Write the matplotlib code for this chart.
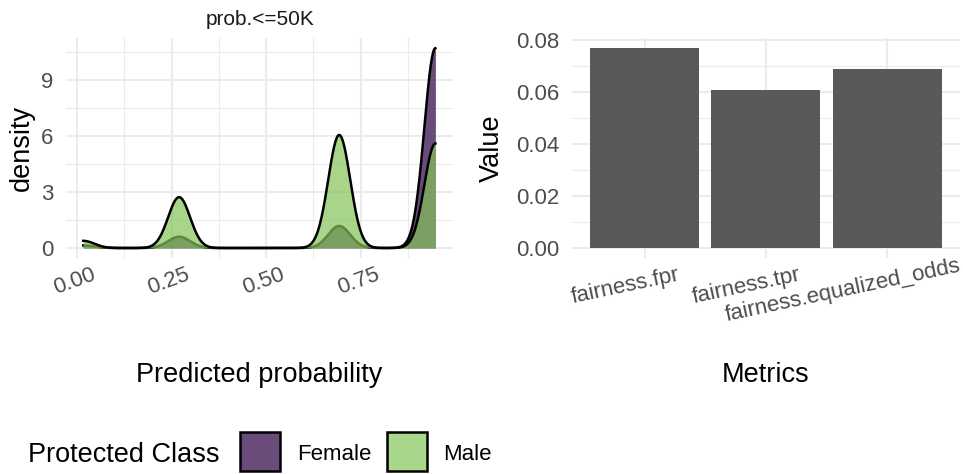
import numpy as np
import matplotlib
matplotlib.use("Agg")
import matplotlib.pyplot as plt
import matplotlib.transforms as mtransforms
from matplotlib.patches import Rectangle

plt.rcParams['font.family'] = ['Liberation Sans', 'DejaVu Sans']

# ---------------- data ----------------
# density panel: predicted-probability clusters and share of each group at each
prob_points = [0.0167, 0.270, 0.693, 0.947]
female_share = [0.010, 0.044, 0.086, 0.778]
male_share = [0.028, 0.198, 0.440, 0.407]
bandwidth = 0.029
groups = ["Female", "Male"]
facet_title = "prob.<=50K"

# bar panel
metrics = ["fairness.fpr", "fairness.tpr", "fairness.equalized_odds"]
metric_values = [0.0769, 0.0607, 0.0688]

left_xticks = [0.0, 0.25, 0.50, 0.75]
left_yticks = [0, 3, 6, 9]
right_yticks = [0.00, 0.02, 0.04, 0.06, 0.08]

# ---------------- style ----------------
W, H = 963, 474
DPI = 100
female_col = "#451F59"
female_alpha = 0.8
male_col = "#83C458"
male_alpha = 0.7
bar_col = "#595959"
grid_col = "#EBEBEB"
tick_col = "#4D4D4D"
TICK_FS = 16
TITLE_FS = 19.5
STRIP_FS = 15

fig = plt.figure(figsize=(W / DPI, H / DPI), dpi=DPI)


def rect(x0, y0, x1, y1):
    # pixel box (top-left origin) -> figure fraction
    return [x0 / W, 1 - y1 / H, (x1 - x0) / W, (y1 - y0) / H]


def fx(px):
    return px / W


def fy(py):
    return 1 - py / H


axL = fig.add_axes(rect(65.6, 38.2, 453, 258))
axR = fig.add_axes(rect(571.7, 38.2, 960, 258))

for ax in (axL, axR):
    for s in ax.spines.values():
        s.set_visible(False)
    ax.set_axisbelow(True)
    ax.tick_params(length=0, labelsize=TICK_FS, labelcolor=tick_col, pad=9)

# ---------------- density panel ----------------
pts = np.array(prob_points)
xs = np.linspace(pts.min(), pts.max(), 600)


def kde(shares):
    sh = np.array(shares)
    z = (xs[:, None] - pts[None, :]) / bandwidth
    return (sh[None, :] * np.exp(-0.5 * z ** 2)).sum(axis=1) / (np.sqrt(2 * np.pi) * bandwidth)


dens_f = kde(female_share)
dens_m = kde(male_share)

axL.fill_between(xs, 0, dens_f, color=female_col, alpha=female_alpha, lw=0, zorder=2)
axL.plot(xs, dens_f, color="black", lw=1.8, zorder=2.1)
axL.fill_between(xs, 0, dens_m, color=male_col, alpha=male_alpha, lw=0, zorder=3)
axL.plot(xs, dens_m, color="black", lw=1.8, zorder=3.1)

xr = pts.max() - pts.min()
axL.set_xlim(pts.min() - 0.05 * xr, pts.max() + 0.05 * xr)
ymax = max(dens_f.max(), dens_m.max())
axL.set_ylim(-0.05 * ymax, 1.05 * ymax)
axL.set_xticks(left_xticks)
axL.set_xticklabels([])
axL.set_yticks(left_yticks)
axL.set_yticklabels([str(v) for v in left_yticks])
axL.set_xticks([0.125, 0.375, 0.625, 0.875], minor=True)
axL.set_yticks([1.5, 4.5, 7.5, 10.5], minor=True)
axL.tick_params(which="minor", length=0)
axL.grid(True, which="major", color=grid_col, lw=1.5)
axL.grid(True, which="minor", color=grid_col, lw=0.8)

# ---------------- bar panel ----------------
xpos = np.arange(len(metrics))
axR.bar(xpos, metric_values, width=0.9, color=bar_col, zorder=2)
axR.set_xlim(-0.6, len(metrics) - 0.4)
vmax = max(metric_values)
axR.set_ylim(-0.05 * vmax, 1.05 * vmax)
axR.set_xticks(xpos)
axR.set_xticklabels([])
axR.set_yticks(right_yticks)
axR.set_yticklabels([f"{v:.2f}" for v in right_yticks])
axR.set_yticks([0.01, 0.03, 0.05, 0.07], minor=True)
axR.tick_params(which="minor", length=0)
axR.grid(True, which="major", color=grid_col, lw=1.5)
axR.grid(True, which="minor", axis="y", color=grid_col, lw=0.8)

# ---------------- rotated x tick labels with fractional anchor ----------------
renderer = fig.canvas.get_renderer()


def rotated_labels(ax, positions, labels, angle, frac, drop_px):
    th = np.deg2rad(angle)
    for p, lab in zip(positions, labels):
        tmp = fig.text(0, 0, lab, fontsize=TICK_FS)
        L = tmp.get_window_extent(renderer).width
        tmp.remove()
        dx = -frac * L * np.cos(th)
        dy = -frac * L * np.sin(th) - drop_px
        off = mtransforms.ScaledTranslation(dx / DPI, dy / DPI, fig.dpi_scale_trans)
        tr = mtransforms.blended_transform_factory(ax.transData, ax.transAxes) + off
        ax.text(p, 0, lab, transform=tr, rotation=angle, rotation_mode="anchor",
                ha="left", va="top", fontsize=TICK_FS, color=tick_col, clip_on=False)


rotated_labels(axL, left_xticks, [f"{v:.2f}" for v in left_xticks], 20, 0.65, 11)
rotated_labels(axR, list(xpos), metrics, 12, 0.7, 13)

# ---------------- titles ----------------
fig.text(fx(260), fy(25), facet_title, fontsize=STRIP_FS, ha="center", va="baseline", color="#1A1A1A")
fig.text(fx(259), fy(382), "Predicted probability", fontsize=TITLE_FS, ha="center", va="baseline")
fig.text(fx(766), fy(382), "Metrics", fontsize=TITLE_FS, ha="center", va="baseline")
fig.text(fx(22), fy(148), "density", fontsize=TITLE_FS, rotation=90, ha="center", va="center")
fig.text(fx(492), fy(148), "Value", fontsize=TITLE_FS, rotation=90, ha="center", va="center")

# ---------------- legend ----------------
fig.text(fx(28), fy(452), "Protected Class", fontsize=TITLE_FS, ha="left", va="center_baseline")


def blend_on_white(c, a):
    rgb = np.array(matplotlib.colors.to_rgb(c))
    return tuple(a * rgb + (1 - a) * 1.0)


key_specs = [
    (groups[0], blend_on_white(female_col, female_alpha), 239.5, 297),
    (groups[1], blend_on_white(male_col, male_alpha), 387, 443.5),
]
for name, col, kx, tx in key_specs:
    fig.patches.append(Rectangle((fx(kx), fy(471)), 40 / W, 39 / H, transform=fig.transFigure,
                                 facecolor=col, edgecolor="black", lw=1.8))
    fig.text(fx(tx), fy(452), name, fontsize=TICK_FS, ha="left", va="center_baseline")

fig.savefig("out.png", dpi=DPI)
